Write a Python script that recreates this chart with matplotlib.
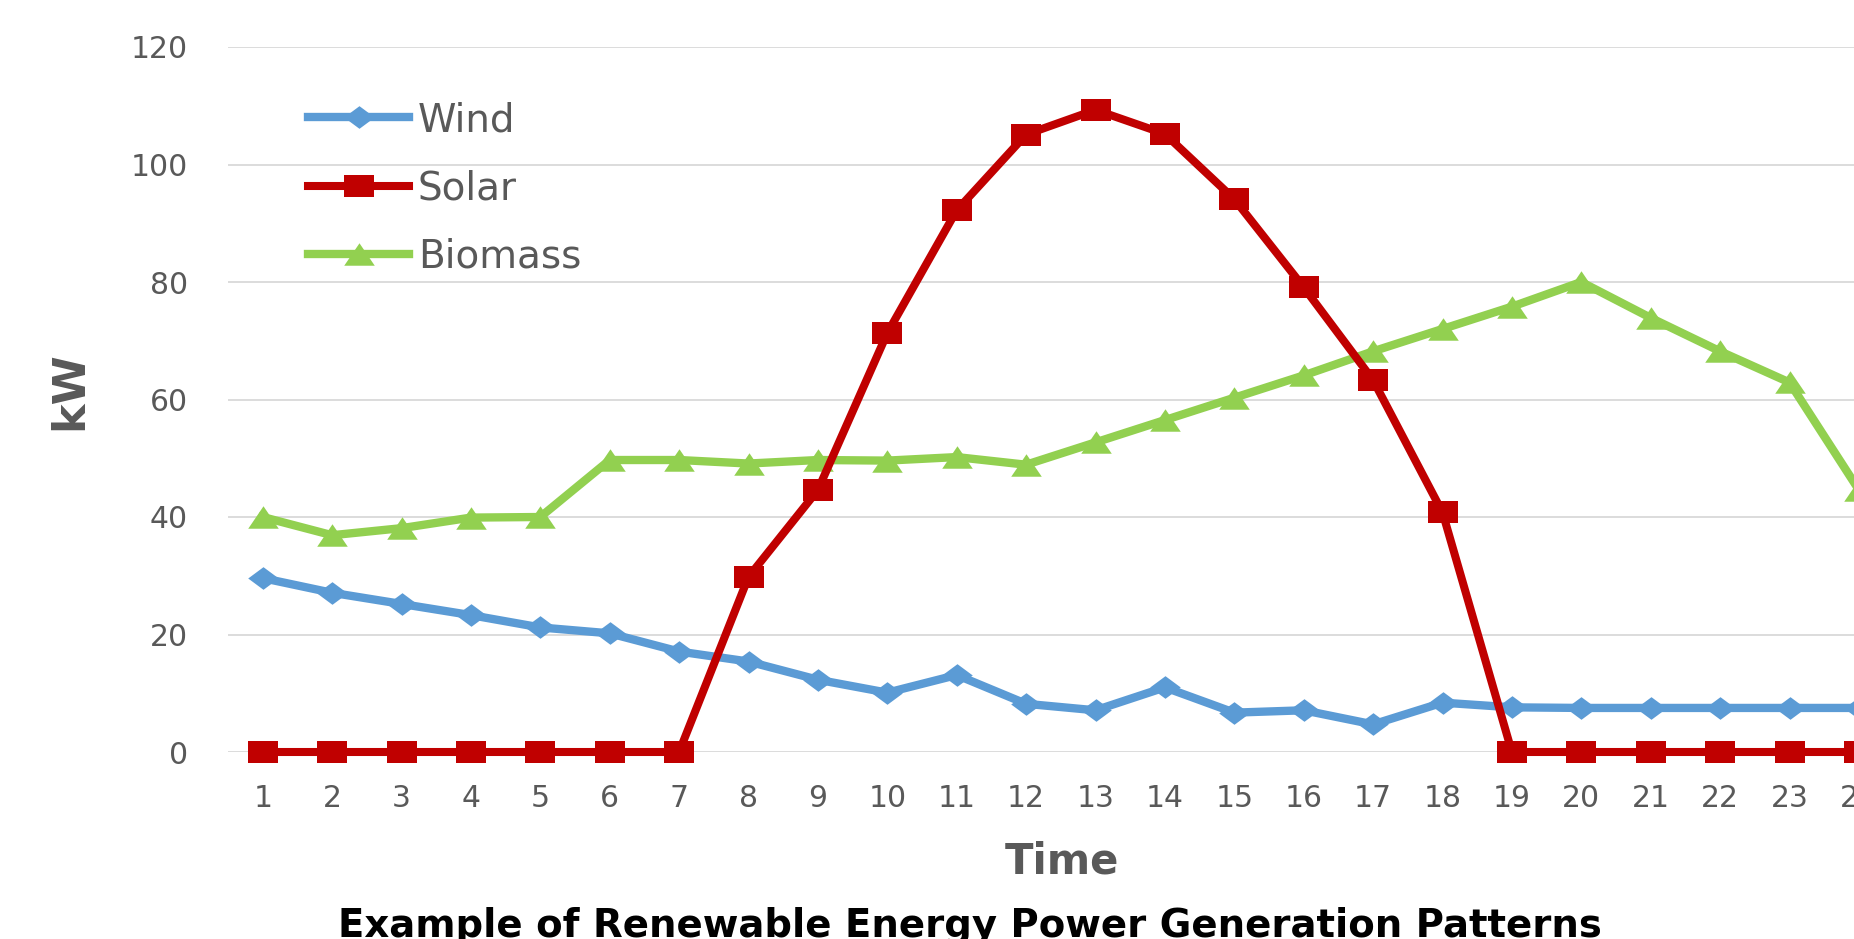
import numpy as np
import matplotlib
matplotlib.use("Agg")
import matplotlib.pyplot as plt

# hourly values (kW)
hours = list(range(1, 25))
wind = [29.6, 27.1, 25.2, 23.3, 21.2, 20.2, 17.1, 15.4, 12.3, 10.1, 13.1, 8.2,
        7.1, 11.0, 6.7, 7.1, 4.7, 8.4, 7.6, 7.5, 7.5, 7.5, 7.5, 7.5]
solar = [0, 0, 0, 0, 0, 0, 0, 29.8, 44.6, 71.3, 92.2, 105.1,
         109.3, 105.2, 94.1, 79.1, 63.3, 40.8, 0, 0, 0, 0, 0, 0]
biomass = [40.0, 36.9, 38.1, 39.9, 40.0, 49.7, 49.7, 49.1, 49.7, 49.6, 50.2, 48.9,
           52.7, 56.5, 60.3, 64.1, 68.2, 72.0, 75.8, 80.0, 73.9, 68.2, 62.9, 44.6]
y_ticks = [0, 20, 40, 60, 80, 100, 120]

gray = '#595959'

# the source picture is stretched sideways, so the markers are too
sq = [(-1.35, -1), (1.35, -1), (1.35, 1), (-1.35, 1), (-1.35, -1)]
dia = [(0, 1), (1.35, 0), (0, -1), (-1.35, 0), (0, 1)]
tri = [(-1.36, -1), (1.36, -1), (0, 1), (-1.36, -1)]

W, H = 1854, 939
fig = plt.figure(figsize=(W / 100, H / 100), dpi=100)
fig.patch.set_facecolor('white')

# plot area: x=1 at 262px, 69.4px per hour, y 0..120 between 752px and 47px
left = 228 / W
width = 24 * 69.4 / W
ax = fig.add_axes([left, 1 - 752 / H, width, 705 / H])

l_wind, = ax.plot(hours, wind, color='#5B9BD5', lw=6.0, marker=dia, ms=22,
                  mew=0, solid_joinstyle='round', clip_on=False, zorder=3, label='Wind')
l_bio, = ax.plot(hours, biomass, color='#92D050', lw=6.0, marker=tri, ms=22,
                 mew=0, solid_joinstyle='round', clip_on=False, zorder=4, label='Biomass')
l_solar, = ax.plot(hours, solar, color='#C00000', lw=5.8, marker=sq, ms=21.6,
                   mew=0, solid_joinstyle='round', clip_on=False, zorder=5, label='Solar')

ax.set_xlim(0.5, 24.5)
ax.set_ylim(0, 120)
ax.set_xticks(hours)
ax.set_yticks(y_ticks)
ax.yaxis.grid(True, color='#D9D9D9', lw=1.3)
ax.set_axisbelow(True)
for s in ax.spines.values():
    s.set_visible(False)
ax.tick_params(axis='both', length=0, labelcolor=gray, labelsize=21.5)
ax.tick_params(axis='y', pad=29)
ax.tick_params(axis='x', pad=23)

leg = ax.legend([l_wind, l_solar, l_bio], ['Wind', 'Solar', 'Biomass'],
                loc='upper left', bbox_to_anchor=(308 / W, 1 - 101 / H),
                bbox_transform=fig.transFigure, frameon=False, fontsize=28,
                handlelength=2.6, handletextpad=0.22, labelspacing=0.78,
                borderpad=0, borderaxespad=0, numpoints=1)
for t in leg.get_texts():
    t.set_color(gray)

fig.text(70 / W, 1 - 391 / H, 'kW', rotation=90, ha='center', va='center',
         fontsize=32, fontweight='bold', color=gray)
fig.text(1062 / W, 1 - 862 / H, 'Time', ha='center', va='center',
         fontsize=30, fontweight='bold', color=gray)
fig.text(970 / W, 1 - 907 / H, 'Example of Renewable Energy Power Generation Patterns',
         ha='center', va='top', fontsize=27.8, fontweight='bold', color='black')

fig.savefig('out.png', dpi=100)
